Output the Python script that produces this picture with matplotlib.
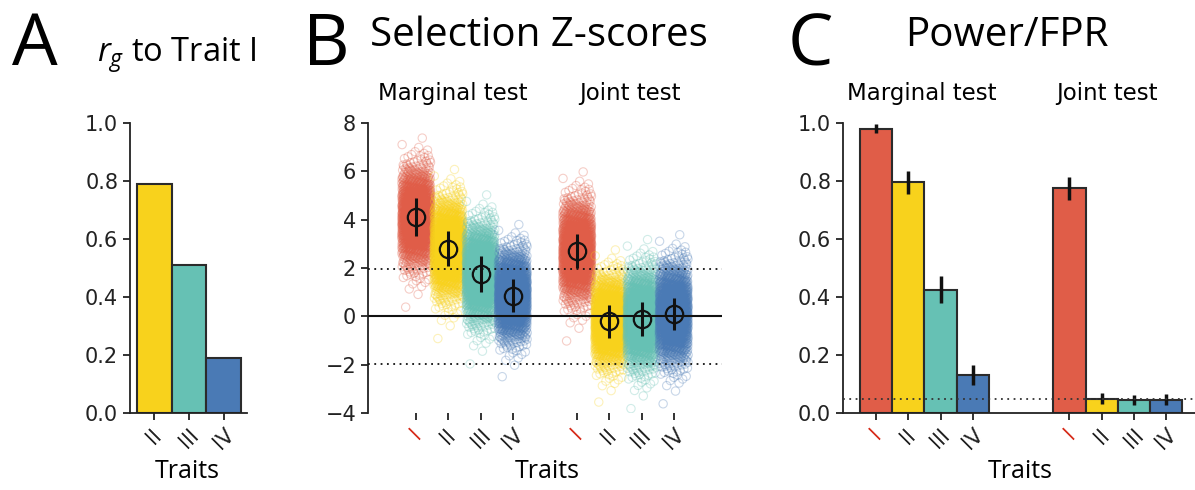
import matplotlib.pyplot as plt
import numpy as np
from statistics import NormalDist

# ---- data ----
traits = ["I", "II", "III", "IV"]
colors = ["#E05D48", "#F8D21C", "#66C1B4", "#4A7AB5"]

# panel A: genetic correlation with trait I
rg_traits = ["II", "III", "IV"]
rg_values = [0.79, 0.51, 0.19]

# panel B: selection z-scores (mean, error half-width, spread of the cloud)
z_marginal_mean = [4.1, 2.8, 1.75, 0.85]
z_marginal_err = [0.78, 0.72, 0.75, 0.68]
z_marginal_sd = [1.0, 1.0, 1.0, 0.9]
z_joint_mean = [2.7, -0.2, -0.1, 0.1]
z_joint_err = [0.7, 0.68, 0.7, 0.65]
z_joint_sd = [1.0, 0.9, 1.0, 1.0]
n_sim = 1500

# panel C: power / false positive rate
power_marginal = [0.98, 0.795, 0.425, 0.13]
power_marginal_err = [0.015, 0.04, 0.047, 0.035]
power_joint = [0.775, 0.05, 0.045, 0.046]
power_joint_err = [0.04, 0.02, 0.018, 0.019]

W, H = 1195, 490
plt.rcParams['font.family'] = 'DejaVu Sans'
plt.rcParams['mathtext.fontset'] = 'custom'
plt.rcParams['mathtext.it'] = 'Open Sans:italic'
plt.rcParams['mathtext.rm'] = 'Open Sans'
title_font = 'Open Sans'

fig = plt.figure(figsize=(W / 100, H / 100), dpi=100)


def px_axes(x0, x1, y0, y1):
    return fig.add_axes([x0 / W, 1 - y1 / H, (x1 - x0) / W, (y1 - y0) / H])


def ftext(x, y, s, **kw):
    fig.text(x / W, 1 - y / H, s, va='baseline', **kw)


def style(ax):
    ax.spines['top'].set_visible(False)
    ax.spines['right'].set_visible(False)
    for sp in ax.spines.values():
        sp.set_linewidth(1.3)
        sp.set_color('#222222')
    ax.tick_params(labelsize=15, width=1.3, length=5, color='#222222', colors='#222222')


def trait_ticks(ax, pos, labels):
    ax.set_xticks(pos)
    ax.set_xticklabels(labels, rotation=45, ha='center', fontsize=15)
    for t in ax.get_xticklabels():
        if t.get_text() == "I":
            t.set_color('#D7301F')


# ---- A ----
axA = px_axes(130, 247, 123, 413)
xa = np.arange(len(rg_traits))
axA.bar(xa, rg_values, width=1.0, color=colors[1:], edgecolor='#2b2b2b', linewidth=1.5)
axA.set_xlim(-0.70, 2.67)
axA.set_ylim(0, 1.0)
axA.set_yticks(np.arange(0, 1.01, 0.2))
style(axA)
trait_ticks(axA, xa, rg_traits)

# ---- B ----
axB = px_axes(368, 722, 123, 413)
inv = NormalDist().inv_cdf
k = np.arange(n_sim) + 0.5
u = (k * 0.7548776662) % 1.0
v = (k * 0.5698402910) % 1.0
zq = np.array([inv(min(max(p, 1e-4), 1 - 1e-4)) for p in v])
xpos_m = np.arange(4)
xpos_j = np.arange(4) + 5
groups = list(zip(xpos_m, z_marginal_mean, z_marginal_sd, colors)) + \
    list(zip(xpos_j, z_joint_mean, z_joint_sd, colors))
for x0, m, sd, c in groups:
    axB.scatter(x0 - 0.45 + 0.9 * u, m + sd * zq, s=36, facecolors='none',
                edgecolors=c, linewidths=0.8, alpha=0.3, zorder=2)
axB.axhline(0, color='#111111', lw=1.5, zorder=3)
axB.axhline(1.96, color='#111111', lw=1.3, ls=(0, (1, 2.5)), zorder=3)
axB.axhline(-1.96, color='#111111', lw=1.3, ls=(0, (1, 2.5)), zorder=3)
axB.errorbar(np.concatenate([xpos_m, xpos_j]), z_marginal_mean + z_joint_mean,
             yerr=z_marginal_err + z_joint_err, fmt='o', ms=12.5, mfc='none',
             mec='#111111', mew=1.6, ecolor='#111111', elinewidth=2.2,
             capsize=0, zorder=4)
axB.set_xlim(-1.5, 9.5)
axB.set_ylim(-4, 8)
axB.set_yticks(np.arange(-4, 9, 2))
style(axB)
axB.spines['bottom'].set_visible(False)
trait_ticks(axB, np.concatenate([xpos_m, xpos_j]), traits + traits)

# ---- C ----
axC = px_axes(843, 1195, 123, 413)
xc_m = np.arange(4)
xc_j = np.arange(4) + 6
axC.bar(xc_m, power_marginal, width=1.0, color=colors, edgecolor='#2b2b2b', linewidth=1.5, zorder=2)
axC.bar(xc_j, power_joint, width=1.0, color=colors, edgecolor='#2b2b2b', linewidth=1.5, zorder=2)
axC.errorbar(np.concatenate([xc_m, xc_j]), power_marginal + power_joint,
             yerr=power_marginal_err + power_joint_err, fmt='none',
             ecolor='#111111', elinewidth=2.5, capsize=0, zorder=3)
axC.axhline(0.05, color='#333333', lw=1.3, ls=(0, (1, 2.5)), zorder=4)
axC.set_xlim(-1.03, 9.9)
axC.set_ylim(0, 1.0)
axC.set_yticks(np.arange(0, 1.01, 0.2))
style(axC)
trait_ticks(axC, np.concatenate([xc_m, xc_j]), traits + traits)

# ---- text ----
ftext(12, 65, "A", fontsize=52, family=title_font)
ftext(97, 62, r"$r_g$ to Trait I", fontsize=23.5, family=title_font)
ftext(303, 65, "B", fontsize=52, family=title_font)
ftext(370, 46, "Selection Z-scores", fontsize=29, family=title_font)
ftext(788, 65, "C", fontsize=52, family=title_font)
ftext(905, 46, "Power/FPR", fontsize=29, family=title_font)
for cx in (453, 922):
    ftext(cx, 100, "Marginal test", fontsize=16.5, ha='center')
for cx in (630, 1107):
    ftext(cx, 100, "Joint test", fontsize=16.5, ha='center')
for cx in (187, 547, 1020):
    ftext(cx, 478, "Traits", fontsize=18, ha='center', family=title_font)

fig.savefig('out.png', dpi=100, facecolor='white')
